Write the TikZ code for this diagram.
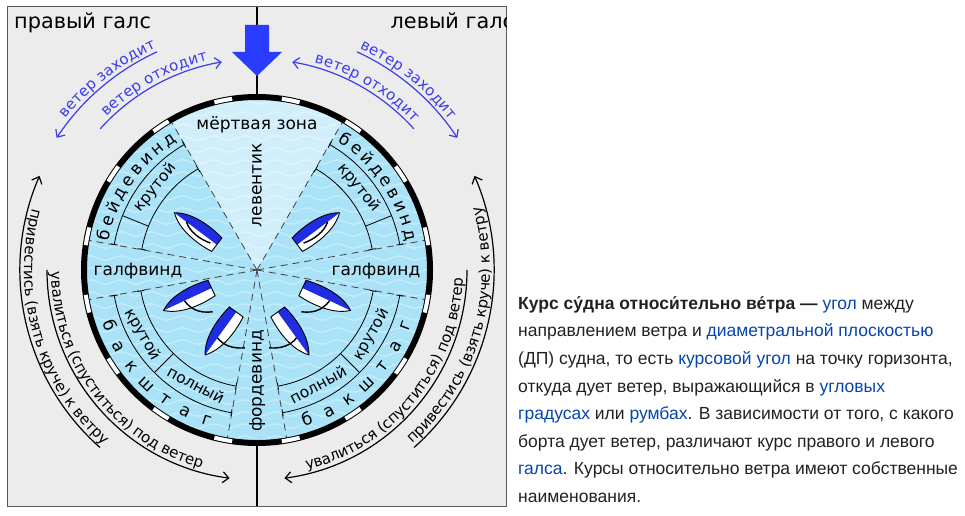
\documentclass[tikz,border=0pt]{standalone}
\usepackage{fontspec}
\setmainfont{DejaVu Sans}
\newfontfamily\wikifont{Liberation Sans}
\usetikzlibrary{arrows.meta,decorations.text,decorations.pathmorphing}

\definecolor{panel}{RGB}{236,236,236}
\definecolor{sea}{RGB}{170,226,247}
\definecolor{wave}{RGB}{196,237,251}
\definecolor{windblue}{RGB}{42,60,255}
\definecolor{shiftblue}{RGB}{60,60,235}
\definecolor{hullblue}{RGB}{32,44,226}
\definecolor{linkblue}{RGB}{6,69,173}
\definecolor{ink}{RGB}{32,33,34}

\newcommand{\arcsize}{\fontsize{15}{15}\selectfont}
\newcommand{\wikilink}[1]{\textcolor{linkblue}{#1}}

% yacht: centre, heading, side (1 or -1), sail
\newcommand{\yacht}[4]{%
  \begin{scope}[shift={(#1)}, rotate=#2, yscale=#3]
    \fill[white] (27,0) .. controls (13,11) and (-10,11) .. (-26,8.5) -- (-26,0) -- cycle;
    \fill[hullblue] (27,0) .. controls (13,-11) and (-10,-11) .. (-26,-8.5) -- (-26,0) -- cycle;
    \draw[line width=0.9pt] (27,0) .. controls (13,11) and (-10,11) .. (-26,8.5)
      -- (-26,-8.5) .. controls (-10,-11) and (13,-11) .. (27,0) -- cycle;
    \draw[line width=1.4pt] #4;
  \end{scope}}

\tikzset{
  sector/.style={black!75, line width=0.8pt, dash pattern=on 7pt off 5pt},
  band/.style={line width=0.8pt, arrows={Bar[width=7pt]-Bar[width=7pt]}},
  course/.style={inner sep=0pt, anchor=base, font=\fontsize{17}{17}\selectfont},
  subcourse/.style={inner sep=0pt, anchor=base, font=\fontsize{15.5}{15.5}\selectfont},
  tack/.style={inner sep=0pt, anchor=base west, font=\fontsize{20.8}{20.8}\selectfont},
  turn/.style={line width=1.2pt, >={Straight Barb[length=6pt,width=11pt]}},
  arctext/.style n args={3}{postaction={decorate, decoration={text along path,
    raise=4pt, text align={left indent=#2}, text color=#1, text={|\arcsize|#3}}}},
  wikiline/.style={inner sep=0pt, anchor=base west, text=ink,
    font=\wikifont\fontsize{17.5}{17.5}\selectfont},
}

\begin{document}
\begin{tikzpicture}[x=1pt, y=1pt]
  \useasboundingbox (0,0) rectangle (965,515);
  \coordinate (O) at (257,245);

  \draw[black!65, fill=panel, line width=1pt] (7,9) rectangle (506,508);
  \begin{scope}
  \clip (7,9) rectangle (506,508);
  \draw[line width=1.5pt] (257,508) -- (257,9);
  \fill[windblue] (245,490) -- (269,490) -- (269,463) -- (282,463) -- (257,439)
    -- (232,463) -- (245,463) -- cycle;

  % sea
  \begin{scope}
    \clip (O) circle[radius=173];
    \fill[sea] (O) circle[radius=173];
    \foreach \y in {65,77,...,425}
      \draw[wave, line width=1.4pt, decorate,
        decoration={snake, amplitude=2.2pt, segment length=31pt}] (80,\y) -- (440,\y);
    \fill[white, opacity=0.45] (O) -- ([shift={(60:180)}]O)
      arc[start angle=60, end angle=120, radius=180] -- cycle;
  \end{scope}

  \foreach \t in {120,170,190,260,60,10,-10,-80}
    \draw[sector] (O) -- ([shift={(\t:171)}]O);

  \foreach \s in {1,-1} {
    \draw[band] ([shift={(90+30*\s:145)}]O) arc[start angle=90+30*\s, end angle=90+80*\s, radius=145];
    \draw[band] ([shift={(90+30*\s:117)}]O) arc[start angle=90+30*\s, end angle=90+80*\s, radius=117];
    \draw[band] ([shift={(90+100*\s:145)}]O) arc[start angle=90+100*\s, end angle=90+170*\s, radius=145];
    \draw[band] ([shift={(90+100*\s:118)}]O) arc[start angle=90+100*\s, end angle=90+170*\s, radius=118];
    \draw[line width=0.8pt] ([shift={(90+68*\s:117)}]O) -- ([shift={(90+68*\s:145)}]O);
    \draw[line width=0.8pt] ([shift={(90+135*\s:118)}]O) -- ([shift={(90+135*\s:145)}]O);
  }

  % courses
  \foreach \ch [count=\i] in {б,е,й,д,е,в,и,н,д} {
    \pgfmathsetmacro\f{77-5.375*(\i-1)}
    \path ([shift={(90+\f:151.5)}]O) node[course, rotate=\f] (bl\i) {\ch};
    \pgfmathsetmacro\f{34+5.375*(\i-1)}
    \path ([shift={(90-\f:151.5)}]O) node[course, rotate=-\f] (br\i) {\ch};
  }
  \foreach \ch [count=\i] in {б,а,к,ш,т,а,г} {
    \pgfmathsetmacro\f{110.5+8.5*(\i-1)}
    \path ([shift={(90+\f:163.5)}]O) node[course, rotate=\f+180] (kl\i) {\ch};
    \pgfmathsetmacro\f{161.5-8.5*(\i-1)}
    \path ([shift={(90-\f:163.5)}]O) node[course, rotate=180-\f] (kr\i) {\ch};
  }
  \path ([shift={(141:126.8)}]O) node[subcourse, rotate=51] (steepL) {крутой};
  \path ([shift={(39:126.8)}]O) node[subcourse, rotate=-51] (steepR) {крутой};
  \path ([shift={(209.5:135.7)}]O) node[subcourse, rotate=299.5] (runL) {крутой};
  \path ([shift={(-29.5:135.7)}]O) node[subcourse, rotate=60.5] (runR) {крутой};
  \path ([shift={(242:135.7)}]O) node[subcourse, rotate=332] (fullL) {полный};
  \path ([shift={(-62:135.7)}]O) node[subcourse, rotate=28] (fullR) {полный};

  \node[course] (dead) at (257,385.5) {мёртвая зона};
  \node[course, rotate=90] (levent) at (261.5,330) {левентик};
  \node[course] (halfL) at (138,239.5) {галфвинд};
  \node[course] (halfR) at (376,239.5) {галфвинд};
  \node[course, rotate=90] (ford) at (261.5,134) {фордевинд};

  % boats
  \yacht{196,286}{143}{1}{(12,0) .. controls (4,6) and (-10,6) .. (-20,2.5)}
  \yacht{188,216}{205}{1}{(4,0) .. controls (2,10) and (-4,18) .. (-17,22)}
  \yacht{221,182}{234}{1}{(6,0) .. controls (9,10) and (5,20) .. (-2,28)}
  \yacht{318,286}{37}{-1}{(12,0) .. controls (4,6) and (-10,6) .. (-20,2.5)}
  \yacht{326,216}{-25}{-1}{(4,0) .. controls (2,10) and (-4,18) .. (-17,22)}
  \yacht{293,182}{-54}{-1}{(6,0) .. controls (9,10) and (5,20) .. (-2,28)}

  % rim
  \draw[line width=6pt] (O) circle[radius=173];
  \foreach \k in {0,...,15}
    \draw[white, line width=4pt] ([shift={(8.25+22.5*\k:173)}]O)
      arc[start angle=8.25+22.5*\k, end angle=14.25+22.5*\k, radius=173];

  % turning the boat
  \draw[turn, shiftblue, <-, arctext={shiftblue}{20.5pt}{ветер заходит}]
    ([shift={(146.6:240)}]O) arc[start angle=146.6, end angle=114.6, radius=240];
  \draw[turn, shiftblue, ->, arctext={shiftblue}{12.9pt}{ветер отходит}]
    ([shift={(138:211)}]O) arc[start angle=138, end angle=99.6, radius=211];
  \draw[turn, shiftblue, ->, arctext={shiftblue}{1pt}{ветер заходит}]
    ([shift={(65.4:240)}]O) arc[start angle=65.4, end angle=33.4, radius=240];
  \draw[turn, shiftblue, <-, arctext={shiftblue}{21.4pt}{ветер отходит}]
    ([shift={(80.4:211)}]O) arc[start angle=80.4, end angle=42, radius=211];

  \draw[turn, ->, arctext={black}{2pt}{увалиться (спуститься) под ветер}]
    ([shift={(180:210)}]O) arc[start angle=180, end angle=262.5, radius=210];
  \draw[turn, <-, arctext={black}{33.5pt}{привестись (взять круче) к ветру}]
    ([shift={(156.6:237)}]O) arc[start angle=156.6, end angle=228.5, radius=237];
  \draw[turn, <-, arctext={black}{23.8pt}{увалиться (спуститься) под ветер}]
    ([shift={(-82.5:210)}]O) arc[start angle=-82.5, end angle=0, radius=210];
  \draw[turn, ->, arctext={black}{1pt}{привестись (взять круче) к ветру}]
    ([shift={(-48.5:237)}]O) arc[start angle=-48.5, end angle=23.4, radius=237];

  \node[tack] (starboard) at (14,486) {правый галс};
  \node[tack] (port) at (390.5,486) {левый галс};
  \end{scope}

  % caption
  \node[wikiline] (p1) at (518,205.7) {\textbf{Курс су́дна относи́тельно ве́тра —} \wikilink{угол} между};
  \node[wikiline] (p2) at (518,178.1) {направлением ветра и \wikilink{диаметральной плоскостью}};
  \node[wikiline] (p3) at (518,150.5) {(ДП) судна, то есть \wikilink{курсовой угол} на точку горизонта,};
  \node[wikiline] (p4) at (518,122.9) {откуда дует ветер, выражающийся в \wikilink{угловых}};
  \node[wikiline] (p5) at (518,95.3) {\wikilink{градусах} или \wikilink{румбах}. В зависимости от того, с какого};
  \node[wikiline] (p6) at (518,67.7) {борта дует ветер, различают курс правого и левого};
  \node[wikiline] (p7) at (518,40.1) {\wikilink{галса}. Курсы относительно ветра имеют собственные};
  \node[wikiline] (p8) at (518,12.5) {наименования.};
\end{tikzpicture}
\end{document}
